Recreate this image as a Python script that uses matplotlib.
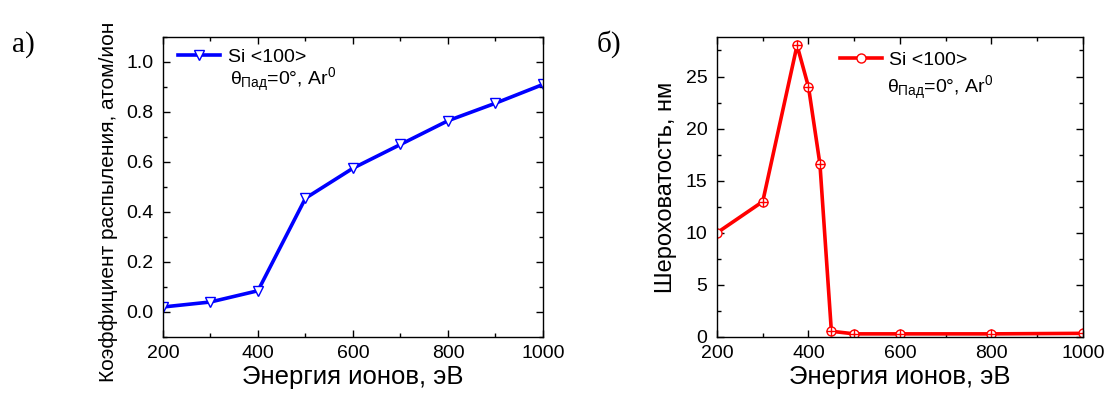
import numpy as np
import matplotlib.pyplot as plt
from matplotlib.ticker import MultipleLocator

plt.rcParams['font.family'] = ['Liberation Sans', 'DejaVu Sans']
plt.rcParams['mathtext.fontset'] = 'custom'
plt.rcParams['mathtext.rm'] = 'Liberation Sans'
plt.rcParams['mathtext.it'] = 'Liberation Sans'

# data: panel a) sputtering yield
energy_a = [200, 300, 400, 500, 600, 700, 800, 900, 1000]
yield_a = [0.02, 0.04, 0.085, 0.455, 0.575, 0.67, 0.765, 0.835, 0.91]

# data: panel б) roughness
energy_b = [200, 300, 375, 400, 425, 450, 500, 600, 800, 1000]
rough_b = [10.0, 13.0, 28.0, 24.0, 16.6, 0.55, 0.3, 0.3, 0.3, 0.35]

legend_label = 'Si <100>'
cond_label = r'$\theta_{\mathrm{Пад}}$=0°, Ar$^{0}$'

fig = plt.figure(figsize=(11.07, 3.99), dpi=100)
ax1 = fig.add_axes([0.1472, 0.1554, 0.3433, 0.752])
ax2 = fig.add_axes([0.6477, 0.1554, 0.3306, 0.752])


def style_axes(ax):
    ax.tick_params(which='both', direction='in', top=True, right=True,
                   labelsize=14, width=1)
    ax.tick_params(axis='x', pad=6)
    ax.tick_params(axis='y', pad=7)
    ax.tick_params(which='major', length=5)
    ax.tick_params(which='minor', length=3)
    ax.xaxis.set_major_locator(MultipleLocator(200))
    ax.xaxis.set_minor_locator(MultipleLocator(100))
    ax.set_xlim(200, 1000)
    for s in ax.spines.values():
        s.set_linewidth(1)
    ax.set_xlabel('Энергия ионов, эВ', fontsize=18.5, labelpad=2)


# panel a)
ax1.plot(energy_a, yield_a, '-v', color='blue', lw=2.6, ms=7,
         mfc='white', mec='blue', mew=1, label=legend_label)
style_axes(ax1)
ax1.set_ylim(-0.1, 1.1)
ax1.yaxis.set_major_locator(MultipleLocator(0.2))
ax1.yaxis.set_minor_locator(MultipleLocator(0.1))
ax1.set_ylabel('Коэффициент распыления, атом/ион', fontsize=15, labelpad=6)
ax1.yaxis.label.set_y(0.45)
ax1.legend(loc='center left', bbox_to_anchor=(0.039, 0.933), frameon=False,
           fontsize=14, handlelength=2.15, borderpad=0, borderaxespad=0,
           handletextpad=0.45)
ax1.text(0.176, 0.84, cond_label, transform=ax1.transAxes, fontsize=14,
         va='baseline')

# panel б)
ax2.plot(energy_b, rough_b, '-o', color='red', lw=2.6, ms=6.5,
         mfc='white', mec='red', mew=1, label=legend_label)
ax2.plot(energy_b[1:], rough_b[1:], '+', color='red', ms=6.5, mew=1)
style_axes(ax2)
ax2.set_ylim(0, 28.8)
ax2.yaxis.set_major_locator(MultipleLocator(5))
ax2.yaxis.set_minor_locator(MultipleLocator(2.5))
ax2.set_ylabel('Шероховатость, нм', fontsize=17, labelpad=6)
ax2.legend(loc='center left', bbox_to_anchor=(0.336, 0.923), frameon=False,
           fontsize=14, handlelength=2.15, borderpad=0, borderaxespad=0,
           handletextpad=0.35)
ax2.text(0.4645, 0.813, cond_label, transform=ax2.transAxes, fontsize=14,
         va='baseline')

fig.text(0.011, 0.87, 'а)', family='Liberation Serif', fontsize=21,
         va='baseline')
fig.text(0.539, 0.87, 'б)', family='Liberation Serif', fontsize=21,
         va='baseline')

fig.savefig('out.png', dpi=100)
